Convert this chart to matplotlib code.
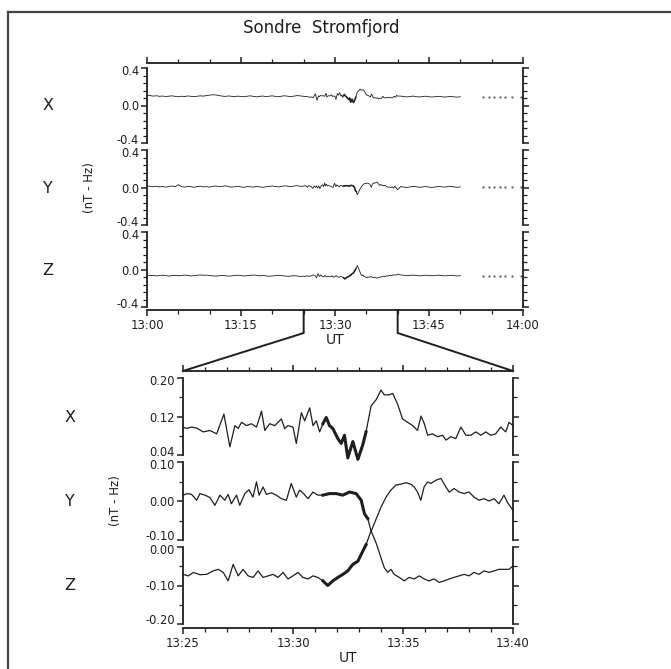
import numpy as np
import matplotlib
matplotlib.use("Agg")
import matplotlib.pyplot as plt
from matplotlib.ticker import MultipleLocator, FixedLocator
from matplotlib.lines import Line2D
from matplotlib.transforms import blended_transform_factory, ScaledTranslation

# ---------------- data ----------------
# Top panel (minutes after 13:00), 0.5-minute samples before/after the zoomed interval
top_step = 0.5
top_x_pre = [0.110, 0.106, 0.100, 0.104, 0.098, 0.101, 0.096, 0.100, 0.103, 0.097,
             0.093, 0.099, 0.095, 0.102, 0.098, 0.094, 0.099, 0.103, 0.100, 0.106,
             0.110, 0.115, 0.112, 0.106, 0.100, 0.097, 0.102, 0.098, 0.094, 0.100,
             0.097, 0.093, 0.099, 0.103, 0.097, 0.092, 0.098, 0.101, 0.095, 0.099,
             0.103, 0.097, 0.093, 0.100, 0.104, 0.098, 0.095, 0.101, 0.106, 0.102]
top_y_pre = [0.018, 0.012, 0.008, 0.014, 0.006, 0.010, 0.004, 0.012, 0.016, 0.008,
             0.030, 0.010, 0.004, 0.012, 0.008, 0.002, 0.010, 0.014, 0.006, 0.010,
             0.004, 0.012, 0.016, 0.008, 0.012, 0.018, 0.010, 0.004, 0.008, 0.014,
             0.006, 0.002, 0.010, 0.008, 0.004, 0.012, 0.006, 0.002, 0.008, 0.012,
             0.016, 0.010, 0.006, 0.012, 0.018, 0.014, 0.010, 0.016, 0.020, 0.012]
top_z_pre = [-0.060, -0.066, -0.063, -0.068, -0.064, -0.061, -0.066, -0.070, -0.065, -0.062,
             -0.067, -0.063, -0.060, -0.064, -0.069, -0.065, -0.061, -0.058, -0.062, -0.060,
             -0.064, -0.068, -0.070, -0.066, -0.063, -0.067, -0.071, -0.068, -0.064, -0.061,
             -0.065, -0.069, -0.066, -0.062, -0.059, -0.063, -0.067, -0.064, -0.068, -0.072,
             -0.069, -0.065, -0.062, -0.066, -0.070, -0.073, -0.069, -0.066, -0.070, -0.074]
top_x_post = [0.100, 0.095, 0.092, 0.097, 0.100, 0.094, 0.091, 0.096, 0.099, 0.093,
              0.090, 0.095, 0.098, 0.094, 0.090, 0.094, 0.097, 0.092, 0.089, 0.093]
top_y_post = [0.010, 0.004, 0.000, 0.006, 0.012, 0.008, 0.002, 0.006, 0.010, 0.004,
              0.000, 0.006, 0.010, 0.008, 0.004, 0.008, 0.012, 0.006, 0.002, 0.006]
top_z_post = [-0.058, -0.062, -0.066, -0.063, -0.060, -0.064, -0.068, -0.065, -0.061, -0.064,
              -0.067, -0.063, -0.060, -0.064, -0.068, -0.066, -0.062, -0.065, -0.069, -0.066]
top_dots_t = [53.6, 54.5, 55.3, 56.4, 57.2, 58.3, 59.7]
top_x_dots = [0.092, 0.090, 0.088, 0.091, 0.089, 0.092, 0.094]
top_y_dots = [0.006, 0.004, 0.002, 0.006, 0.004, 0.003, 0.004]
top_z_dots = [-0.066, -0.064, -0.067, -0.065, -0.066, -0.064, -0.065]

# Zoomed interval (minutes after 13:00)
zoom_start, zoom_end = 25, 40

# Bottom panel (minutes after 13:25)
bx_t = [0.00, 0.17, 0.39, 0.62, 0.92, 1.22, 1.53, 1.86, 2.13, 2.36,
        2.51, 2.66, 2.89, 3.11, 3.34, 3.57, 3.72, 3.94, 4.17, 4.47,
        4.62, 4.77, 5.00, 5.15, 5.38, 5.53, 5.76, 5.91, 6.06, 6.21,
        6.36, 6.51, 6.66, 6.81, 7.04, 7.19, 7.34, 7.49, 7.72, 7.95,
        8.17, 8.32, 8.55, 8.78, 9.00, 9.15, 9.38, 9.53, 9.76, 9.98,
        10.21, 10.44, 10.66, 10.82, 10.97, 11.12, 11.34, 11.57, 11.80, 11.95,
        12.18, 12.40, 12.63, 12.86, 13.08, 13.31, 13.54, 13.76, 13.99, 14.21,
        14.44, 14.67, 14.82, 15.00]
bx_v = [0.098, 0.095, 0.098, 0.096, 0.088, 0.091, 0.084, 0.125, 0.057, 0.101,
        0.095, 0.108, 0.101, 0.105, 0.098, 0.131, 0.091, 0.105, 0.101, 0.115,
        0.095, 0.101, 0.098, 0.064, 0.128, 0.111, 0.138, 0.101, 0.111, 0.088,
        0.105, 0.118, 0.101, 0.095, 0.074, 0.064, 0.081, 0.034, 0.068, 0.031,
        0.061, 0.088, 0.142, 0.155, 0.175, 0.165, 0.165, 0.168, 0.145, 0.115,
        0.108, 0.101, 0.091, 0.121, 0.105, 0.081, 0.084, 0.078, 0.081, 0.071,
        0.078, 0.074, 0.098, 0.081, 0.081, 0.088, 0.081, 0.088, 0.081, 0.084,
        0.098, 0.088, 0.108, 0.101]
by_t = [0.0, 0.2, 0.39, 0.62, 0.77, 1.0, 1.22, 1.45, 1.68, 1.9,
        2.05, 2.2, 2.43, 2.58, 2.81, 3.0, 3.18, 3.34, 3.46, 3.64,
        3.79, 4.02, 4.24, 4.47, 4.7, 4.92, 5.15, 5.3, 5.48, 5.68,
        5.91, 6.13, 6.36, 6.66, 6.96, 7.26, 7.57, 7.87, 8.1, 8.25,
        8.4, 8.55, 8.78, 9.0, 9.23, 9.45, 9.68, 9.9, 10.13, 10.36,
        10.51, 10.66, 10.81, 10.96, 11.12, 11.27, 11.49, 11.72, 11.95, 12.1,
        12.32, 12.55, 12.78, 13.0, 13.23, 13.46, 13.68, 13.91, 14.14, 14.36,
        14.59, 14.74, 15.0]
by_v = [0.015, 0.019, 0.017, 0.002, 0.019, 0.015, 0.009, -0.011, 0.015, 0.002,
        0.017, -0.007, 0.015, -0.011, 0.019, 0.029, 0.010, 0.049, 0.015, 0.036,
        0.017, 0.021, 0.015, 0.006, 0.002, 0.045, 0.010, 0.028, 0.019, 0.006,
        0.023, 0.015, 0.015, 0.019, 0.019, 0.015, 0.023, 0.019, 0.002, -0.033,
        -0.045, -0.078, -0.046, -0.016, 0.010, 0.028, 0.041, 0.043, 0.047, 0.043,
        0.036, 0.023, 0.002, 0.036, 0.049, 0.045, 0.053, 0.058, 0.036, 0.023,
        0.032, 0.023, 0.019, 0.023, 0.010, 0.002, 0.006, 0.000, 0.006, -0.007,
        0.015, -0.003, -0.024]
bz_t = [0, 0.24, 0.47, 0.77, 1.07, 1.375, 1.6, 1.83, 2.05, 2.28,
        2.51, 2.73, 2.96, 3.19, 3.41, 3.64, 3.87, 4.09, 4.32, 4.55,
        4.77, 5.0, 5.23, 5.45, 5.68, 5.91, 6.13, 6.36, 6.58, 6.81,
        7.04, 7.27, 7.49, 7.72, 7.95, 8.17, 8.32, 8.55, 8.78, 9.0,
        9.15, 9.3, 9.45, 9.6, 9.83, 10.06, 10.28, 10.51, 10.74, 10.96,
        11.19, 11.42, 11.64, 11.87, 12.1, 12.32, 12.55, 12.78, 13.0, 13.23,
        13.46, 13.68, 13.91, 14.14, 14.36, 14.59, 14.82, 15.0]
bz_v = [-0.071, -0.075, -0.066, -0.072, -0.071, -0.062, -0.058, -0.066, -0.088, -0.045,
        -0.075, -0.058, -0.075, -0.079, -0.062, -0.079, -0.075, -0.071, -0.079, -0.066,
        -0.083, -0.075, -0.066, -0.079, -0.083, -0.075, -0.079, -0.088, -0.100, -0.088,
        -0.079, -0.071, -0.062, -0.045, -0.037, -0.011, 0.006, 0.042, 0.010, -0.028,
        -0.054, -0.066, -0.058, -0.071, -0.079, -0.088, -0.079, -0.083, -0.075, -0.083,
        -0.088, -0.083, -0.092, -0.088, -0.083, -0.079, -0.075, -0.071, -0.075, -0.066,
        -0.071, -0.062, -0.066, -0.062, -0.058, -0.058, -0.058, -0.049]
# interval of strong high-frequency activity (minutes after 13:25)
band_start, band_end = 6.3, 8.4

top_ticks = [0, 15, 30, 45, 60]
top_tick_labels = ["13:00", "13:15", "13:30", "13:45", "14:00"]
bot_ticks = [25, 30, 35, 40]
bot_tick_labels = ["13:25", "13:30", "13:35", "13:40"]

top_yticks = [-0.4, 0.0, 0.4]
top_ylabels = ["-0.4", "0.0", "0.4"]
bx_yticks = [0.04, 0.12, 0.20]
bx_ylabels = ["0.04", "0.12", "0.20"]
by_yticks = [-0.10, 0.00, 0.10]
by_ylabels = ["-0.10", "0.00", "0.10"]
bz_yticks = [-0.20, -0.10, 0.00]
bz_ylabels = ["-0.20", "-0.10", "0.00"]

# ---------------- figure ----------------
W, H = 671, 669
fig = plt.figure(figsize=(W / 100, H / 100), dpi=100)
INK = "#1e1e1e"
plt.rcParams['font.family'] = ['DejaVu Sans']


def rect(l, t, r, b):
    return [l / W, 1 - b / H, (r - l) / W, (b - t) / H]


def frame_axis(r, xlim, major, labels, minor):
    ax = fig.add_axes(rect(*r))
    ax.patch.set_alpha(0)
    ax.set_xlim(*xlim)
    ax.set_ylim(0, 1)
    ax.spines['left'].set_visible(False)
    ax.spines['right'].set_visible(False)
    for s in ('top', 'bottom'):
        ax.spines[s].set_linewidth(1.3)
        ax.spines[s].set_color(INK)
    ax.set_yticks([])
    ax.xaxis.set_major_locator(FixedLocator(major))
    ax.set_xticklabels(labels)
    ax.xaxis.set_minor_locator(MultipleLocator(minor))
    ax.tick_params(axis='x', which='both', direction='out', top=True, bottom=True,
                   labeltop=False, labelbottom=True, colors=INK)
    ax.tick_params(axis='x', which='major', length=4.5, width=1.1, labelsize=8.5, pad=2)
    ax.tick_params(axis='x', which='minor', length=2.8, width=0.9)
    ax.set_xlabel("UT", fontsize=10, labelpad=1, color=INK)
    return ax


def panel(r, xlim, ylim, major, labels, minor):
    ax = fig.add_axes(rect(*r))
    ax.patch.set_alpha(0)
    ax.set_xlim(*xlim)
    ax.set_ylim(*ylim)
    for s in ('top', 'bottom'):
        ax.spines[s].set_visible(False)
    for s in ('left', 'right'):
        ax.spines[s].set_linewidth(1.3)
        ax.spines[s].set_color(INK)
    ax.set_xticks([])
    ax.yaxis.set_major_locator(FixedLocator(major))
    ax.yaxis.set_minor_locator(MultipleLocator(minor))
    ax.tick_params(axis='y', which='both', direction='out', left=True, right=True,
                   labelleft=False, labelright=False, colors=INK)
    ax.tick_params(axis='y', which='major', length=4.5, width=1.1)
    ax.tick_params(axis='y', which='minor', length=2.8, width=0.9)
    tr = blended_transform_factory(ax.transAxes, ax.transData)
    for v, lab in zip(major, labels):
        dy = 0.0
        if np.isclose(v, ylim[0]):
            dy = 4.5
        elif np.isclose(v, ylim[1]):
            dy = -2.0
        ax.text(0, v, lab, transform=tr + ScaledTranslation(-8 / 100, dy / 100, fig.dpi_scale_trans),
                ha='right', va='center_baseline', fontsize=8.3, color=INK)
    return ax


# --- top block ---
TL, TR = 147, 523
ax_tf = frame_axis((TL, 63, TR, 310), (0, 60), top_ticks, top_tick_labels, 5)
ax_tx = panel((TL, 68, TR, 143), (0, 60), (-0.4, 0.4), top_yticks, top_ylabels, 0.08)
ax_ty = panel((TL, 150, TR, 225), (0, 60), (-0.4, 0.4), top_yticks, top_ylabels, 0.08)
ax_tz = panel((TL, 232, TR, 307), (0, 60), (-0.4, 0.4), top_yticks, top_ylabels, 0.08)

t_pre = np.arange(len(top_x_pre)) * top_step
t_post = zoom_end + top_step * (1 + np.arange(len(top_x_post)))
for ax, pre, mid_t, mid_v, post, dots in (
        (ax_tx, top_x_pre, bx_t, bx_v, top_x_post, top_x_dots),
        (ax_ty, top_y_pre, by_t, by_v, top_y_post, top_y_dots),
        (ax_tz, top_z_pre, bz_t, bz_v, top_z_post, top_z_dots)):
    tt = np.concatenate([t_pre, zoom_start + np.asarray(mid_t), t_post])
    vv = np.concatenate([pre, mid_v, post])
    ax.plot(tt, vv, color=INK, lw=0.6)
    m = (tt >= zoom_start + band_start) & (tt <= zoom_start + band_end)
    ax.plot(tt[m], vv[m], color=INK, lw=1.1)
    ax.plot(top_dots_t, dots, ls='none', marker='.', ms=1.2, color="#555555")

# --- bottom block ---
BL, BR = 183, 513
ax_bf = frame_axis((BL, 371, BR, 628), (zoom_start, zoom_end), bot_ticks, bot_tick_labels, 1)
ax_bx = panel((BL, 378, BR, 455), (zoom_start, zoom_end), (0.04, 0.20), bx_yticks, bx_ylabels, 0.04)
ax_by = panel((BL, 462, BR, 540), (zoom_start, zoom_end), (-0.10, 0.10), by_yticks, by_ylabels, 0.05)
ax_bz = panel((BL, 547, BR, 624), (zoom_start, zoom_end), (-0.20, 0.00), bz_yticks, bz_ylabels, 0.05)

for ax, tt, vv in ((ax_bx, bx_t, bx_v), (ax_by, by_t, by_v), (ax_bz, bz_t, bz_v)):
    tt = zoom_start + np.asarray(tt)
    vv = np.asarray(vv)
    ax.plot(tt, vv, color=INK, lw=0.9, clip_on=False)
    m = (tt >= zoom_start + band_start) & (tt <= zoom_start + band_end)
    ax.plot(tt[m], vv[m], color=INK, lw=2.2, clip_on=False, solid_joinstyle='round')

# --- zoom connector lines ---
inv = fig.transFigure.inverted()
knee = 23  # pixels below the top block
for tz, corner in ((zoom_start, (0, 1)), (zoom_end, (1, 1))):
    p1 = ax_tf.transData.transform((tz, 0))
    p2 = p1 - np.array([0, knee])
    p3 = ax_bf.transAxes.transform(corner)
    pts = inv.transform(np.vstack([p1, p2, p3]))
    fig.add_artist(Line2D(pts[:, 0], pts[:, 1], transform=fig.transFigure,
                          color=INK, lw=1.4))

# --- outer frame (only top and left edges visible) ---
fig.add_artist(Line2D([8 / W, 1.0], [1 - 12 / H, 1 - 12 / H], transform=fig.transFigure,
                      color="#444444", lw=1.6))
fig.add_artist(Line2D([8 / W, 8 / W], [1 - 12 / H, 0.0], transform=fig.transFigure,
                      color="#444444", lw=1.6))

# --- texts ---
fig.text(321 / W, 1 - 28 / H, "Sondre  Stromfjord", ha='center', va='center',
         fontsize=12, color=INK)
for lab, y in (("X", 106), ("Y", 188), ("Z", 270)):
    fig.text(48 / W, 1 - y / H, lab, ha='center', va='center', fontsize=11.5, color=INK)
for lab, y in (("X", 417), ("Y", 501), ("Z", 586)):
    fig.text(70 / W, 1 - y / H, lab, ha='center', va='center', fontsize=11.5, color=INK)
fig.text(89 / W, 1 - 188 / H, "(nT - Hz)", rotation=90, ha='center', va='center',
         fontsize=8.5, color=INK)
fig.text(116 / W, 1 - 501 / H, "(nT - Hz)", rotation=90, ha='center', va='center',
         fontsize=8.5, color=INK)

fig.savefig("out.png", dpi=100, facecolor='white')
